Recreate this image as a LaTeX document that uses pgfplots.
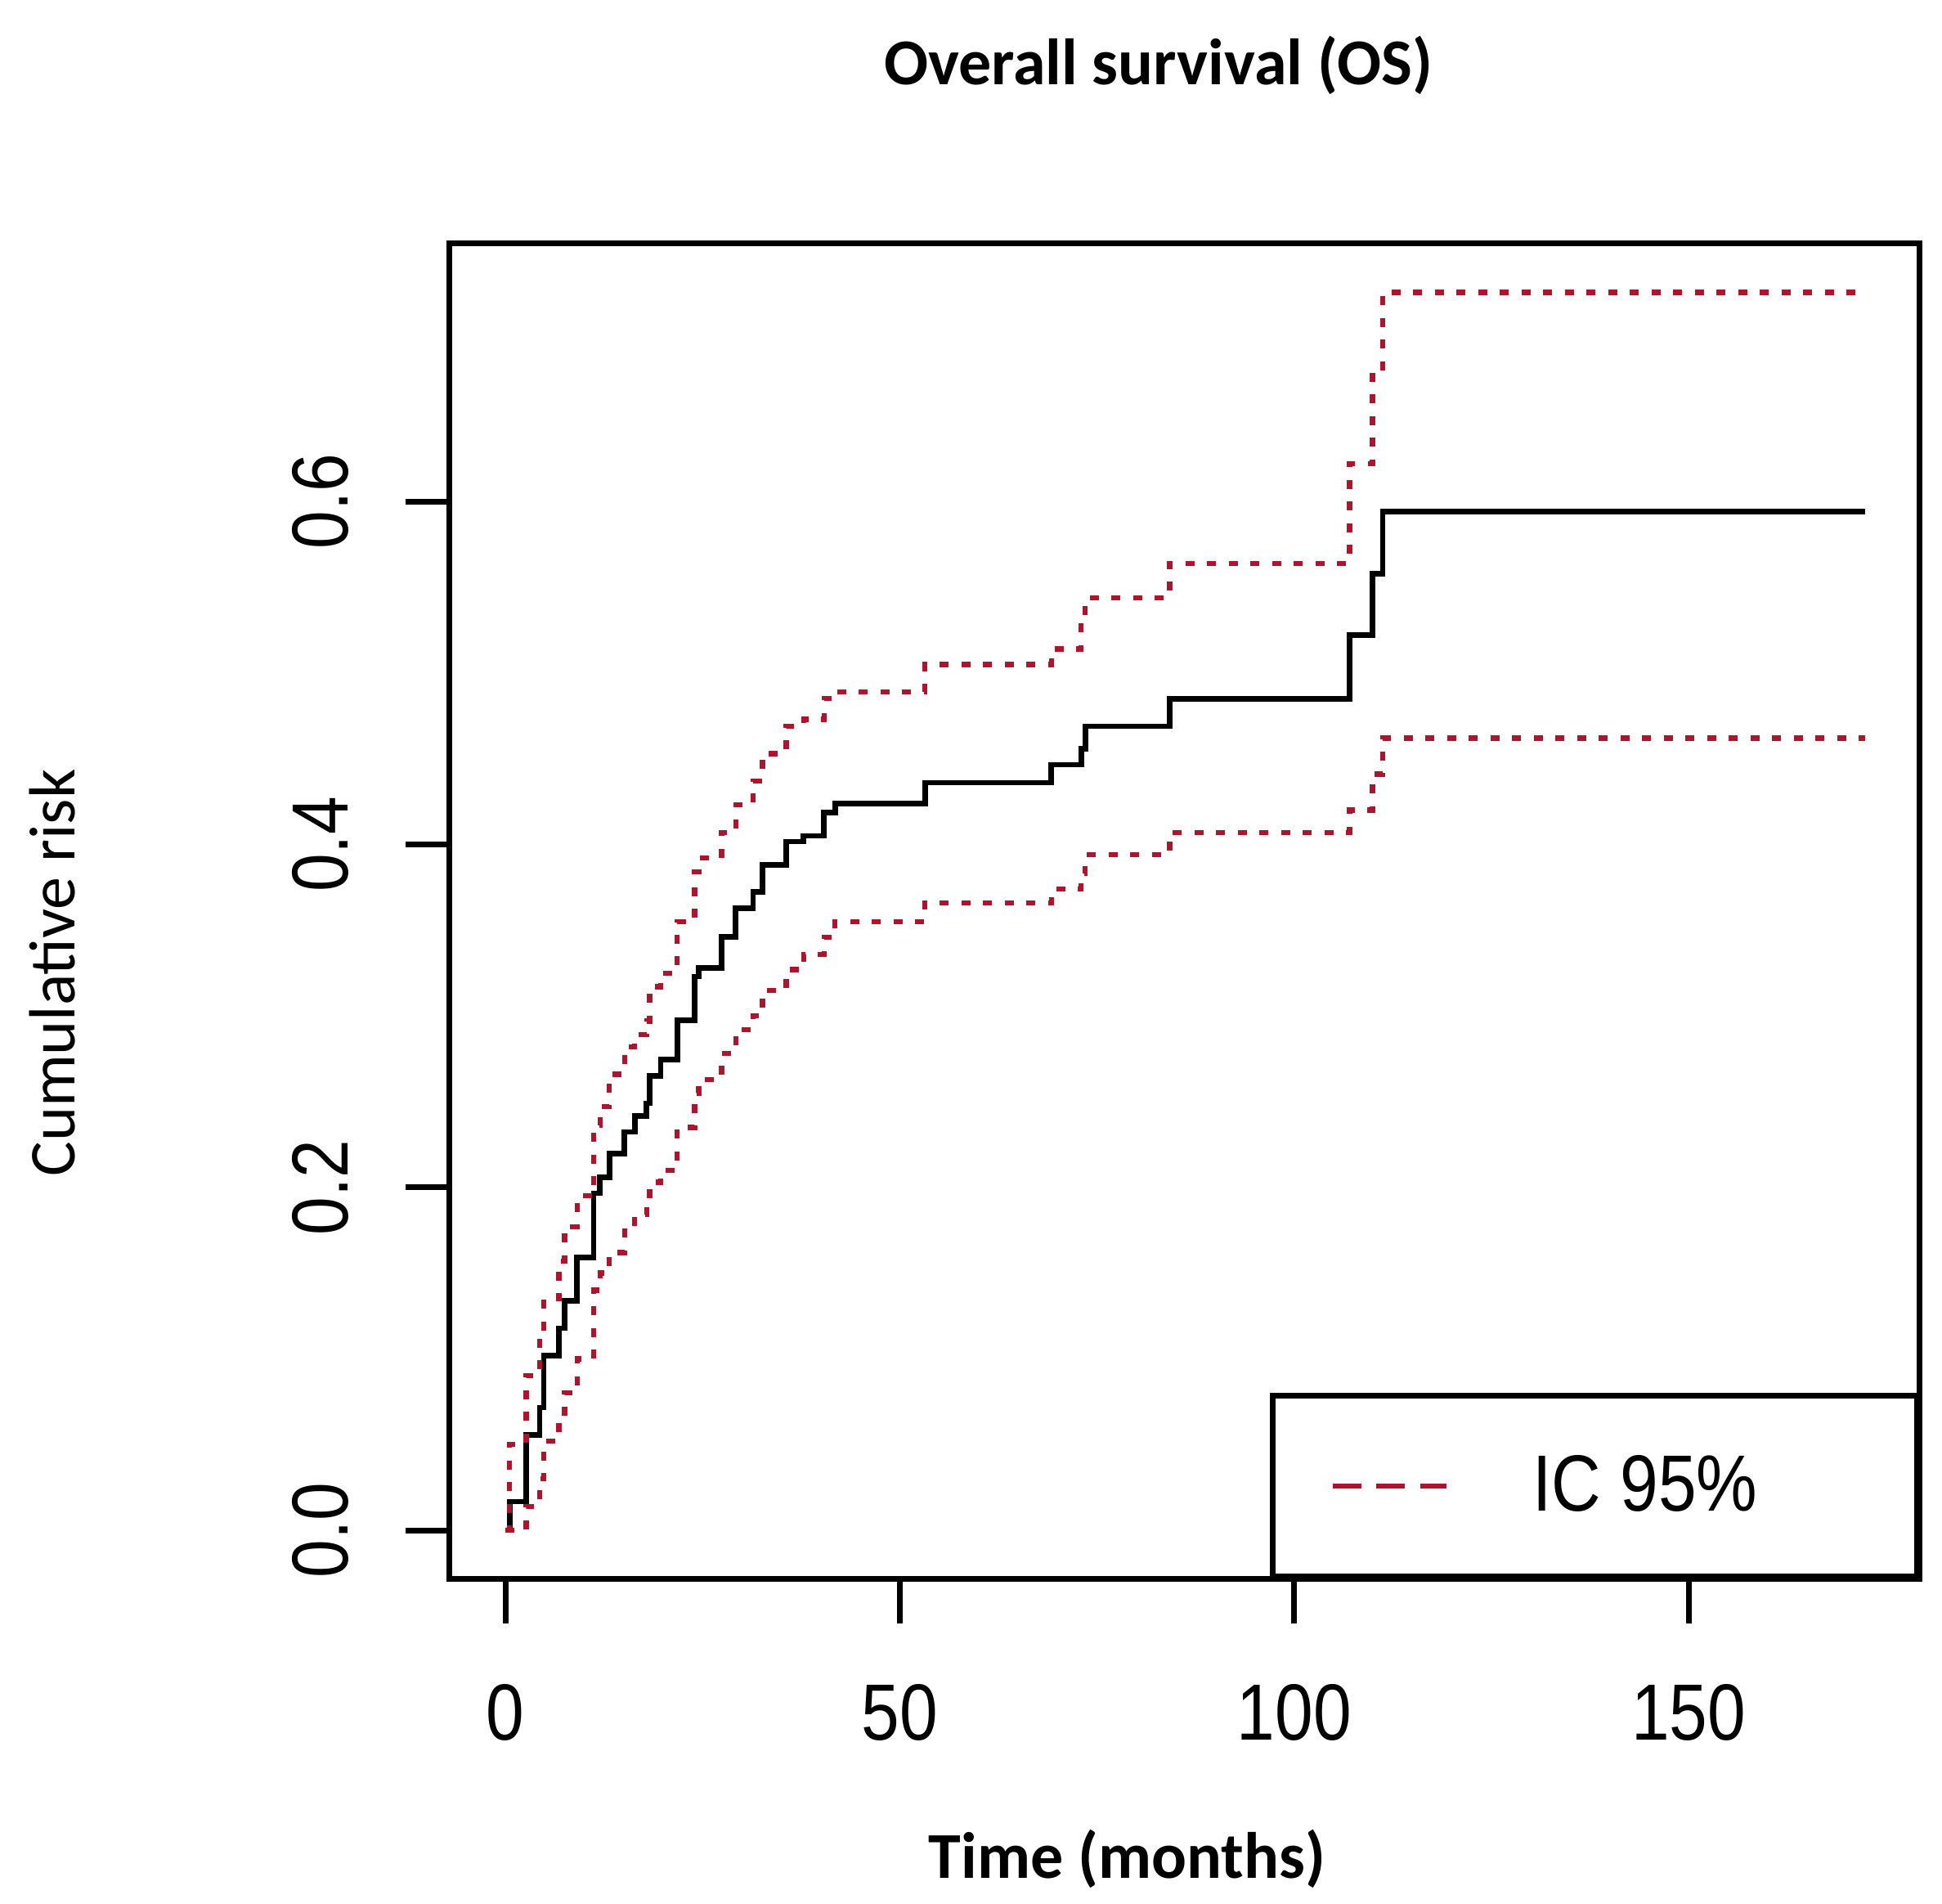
\documentclass[border=0pt]{standalone}
\usepackage{fontspec}
\setmainfont{Carlito}
\newfontfamily\rfont[FakeStretch=0.86]{Liberation Sans}
\usepackage{pgfplots}
\pgfplotsset{compat=1.18}
\usepackage{pgfplotstable}
\definecolor{cired}{RGB}{175,20,45}

% time, estimate, upper and lower 95% limits (step function)
\pgfplotstableread{
t     est     up     lo
0     0       0      0
0.55  0.0167  0.050  0.000
2.63  0.0557  0.090  0.014
4.35  0.0716  0.110  0.030
4.87  0.1018  0.135  0.052
6.8   0.1178  0.157  0.066
7.5   0.1337  0.177  0.080
9.1   0.1591  0.195  0.100
11.2  0.1965  0.236  0.140
12.0  0.2060  0.247  0.150
13.2  0.2196  0.266  0.162
15.1  0.2323  0.282  0.176
16.4  0.2418  0.289  0.184
17.9  0.2490  0.297  0.190
18.3  0.2649  0.317  0.203
19.7  0.2745  0.325  0.210
21.8  0.2975  0.355  0.235
24.0  0.3230  0.384  0.255
24.5  0.3278  0.392  0.263
27.4  0.3460  0.407  0.278
29.2  0.3628  0.423  0.292
31.4  0.3723  0.437  0.300
32.6  0.3882  0.453  0.315
35.6  0.4017  0.469  0.327
37.8  0.4050  0.473  0.336
40.4  0.4185  0.485  0.346
41.8  0.4240  0.489  0.355
53.2  0.4360  0.505  0.366
69.2  0.4465  0.514  0.374
73.0  0.4560  0.530  0.383
73.5  0.4690  0.544  0.394
84.2  0.4850  0.564  0.407
107.0 0.5220  0.622  0.420
109.9 0.5580  0.676  0.441
111.2 0.5940  0.722  0.462
172.4 0.5940  0.722  0.462
}\kmdata

\begin{document}
\begin{tikzpicture}
\useasboundingbox (-110pt,-79.4pt) rectangle (365pt,386.2pt);
\begin{axis}[
  name=ax, at={(0,0)}, anchor=south west,
  scale only axis, width=359.6pt, height=326.6pt,
  xmin=-7.05, xmax=179.3, ymin=-0.0286, ymax=0.7504,
  axis line style={line width=1.4pt},
  xtick={0,50,100,150}, ytick={0,0.2,0.4,0.6},
  xtick pos=bottom, ytick pos=left,
  tick align=outside, major tick length=10.8pt,
  every tick/.style={black, line width=1.4pt},
  /pgf/number format/assume math mode=true,
  tick label style={font=\rfont\fontsize{19.5}{20}\selectfont, inner sep=0pt},
  xticklabel style={anchor=north},
  xticklabel shift=14.6pt,
  yticklabel style={rotate=90, anchor=south,
    /pgf/number format/.cd, fixed, fixed zerofill, precision=1},
  yticklabel shift=13.7pt,
  legend style={at={(rel axis cs:1,0)}, anchor=south east, draw=black,
    line width=1.4pt, inner xsep=14pt, inner ysep=14.5pt,
    font=\rfont\fontsize{19.5}{20}\selectfont, nodes={inner sep=0pt}},
  legend cell align=left,
  legend image code/.code={\draw[#1] (0pt,0pt) -- (27.8pt,0pt);},
]
\addplot[const plot, black, line width=1.35pt, forget plot] table[x=t, y=est] {\kmdata};
\addplot[const plot, cired, line width=1.25pt, dash pattern=on 2.2pt off 3.1pt, forget plot] table[x=t, y=up] {\kmdata};
\addplot[const plot, cired, line width=1.25pt, dash pattern=on 2.2pt off 3.1pt, forget plot] table[x=t, y=lo] {\kmdata};
\addlegendimage{cired, line width=1.2pt, dash pattern=on 7pt off 3.7pt}
\addlegendentry{\kern20.6pt IC 95\%\kern25pt\mbox{}}
\end{axis}
\node[font=\bfseries\fontsize{16}{19}\selectfont, anchor=base] at (173.3pt,365.4pt) {Overall survival (OS)};
\node[font=\bfseries\fontsize{16}{19}\selectfont, anchor=base] at (165.7pt,-73.2pt) {Time (months)};
\node[font=\fontsize{16}{19}\selectfont, rotate=90, anchor=base] at (-91.6pt,148.3pt) {Cumulative risk};
\end{tikzpicture}
\end{document}
